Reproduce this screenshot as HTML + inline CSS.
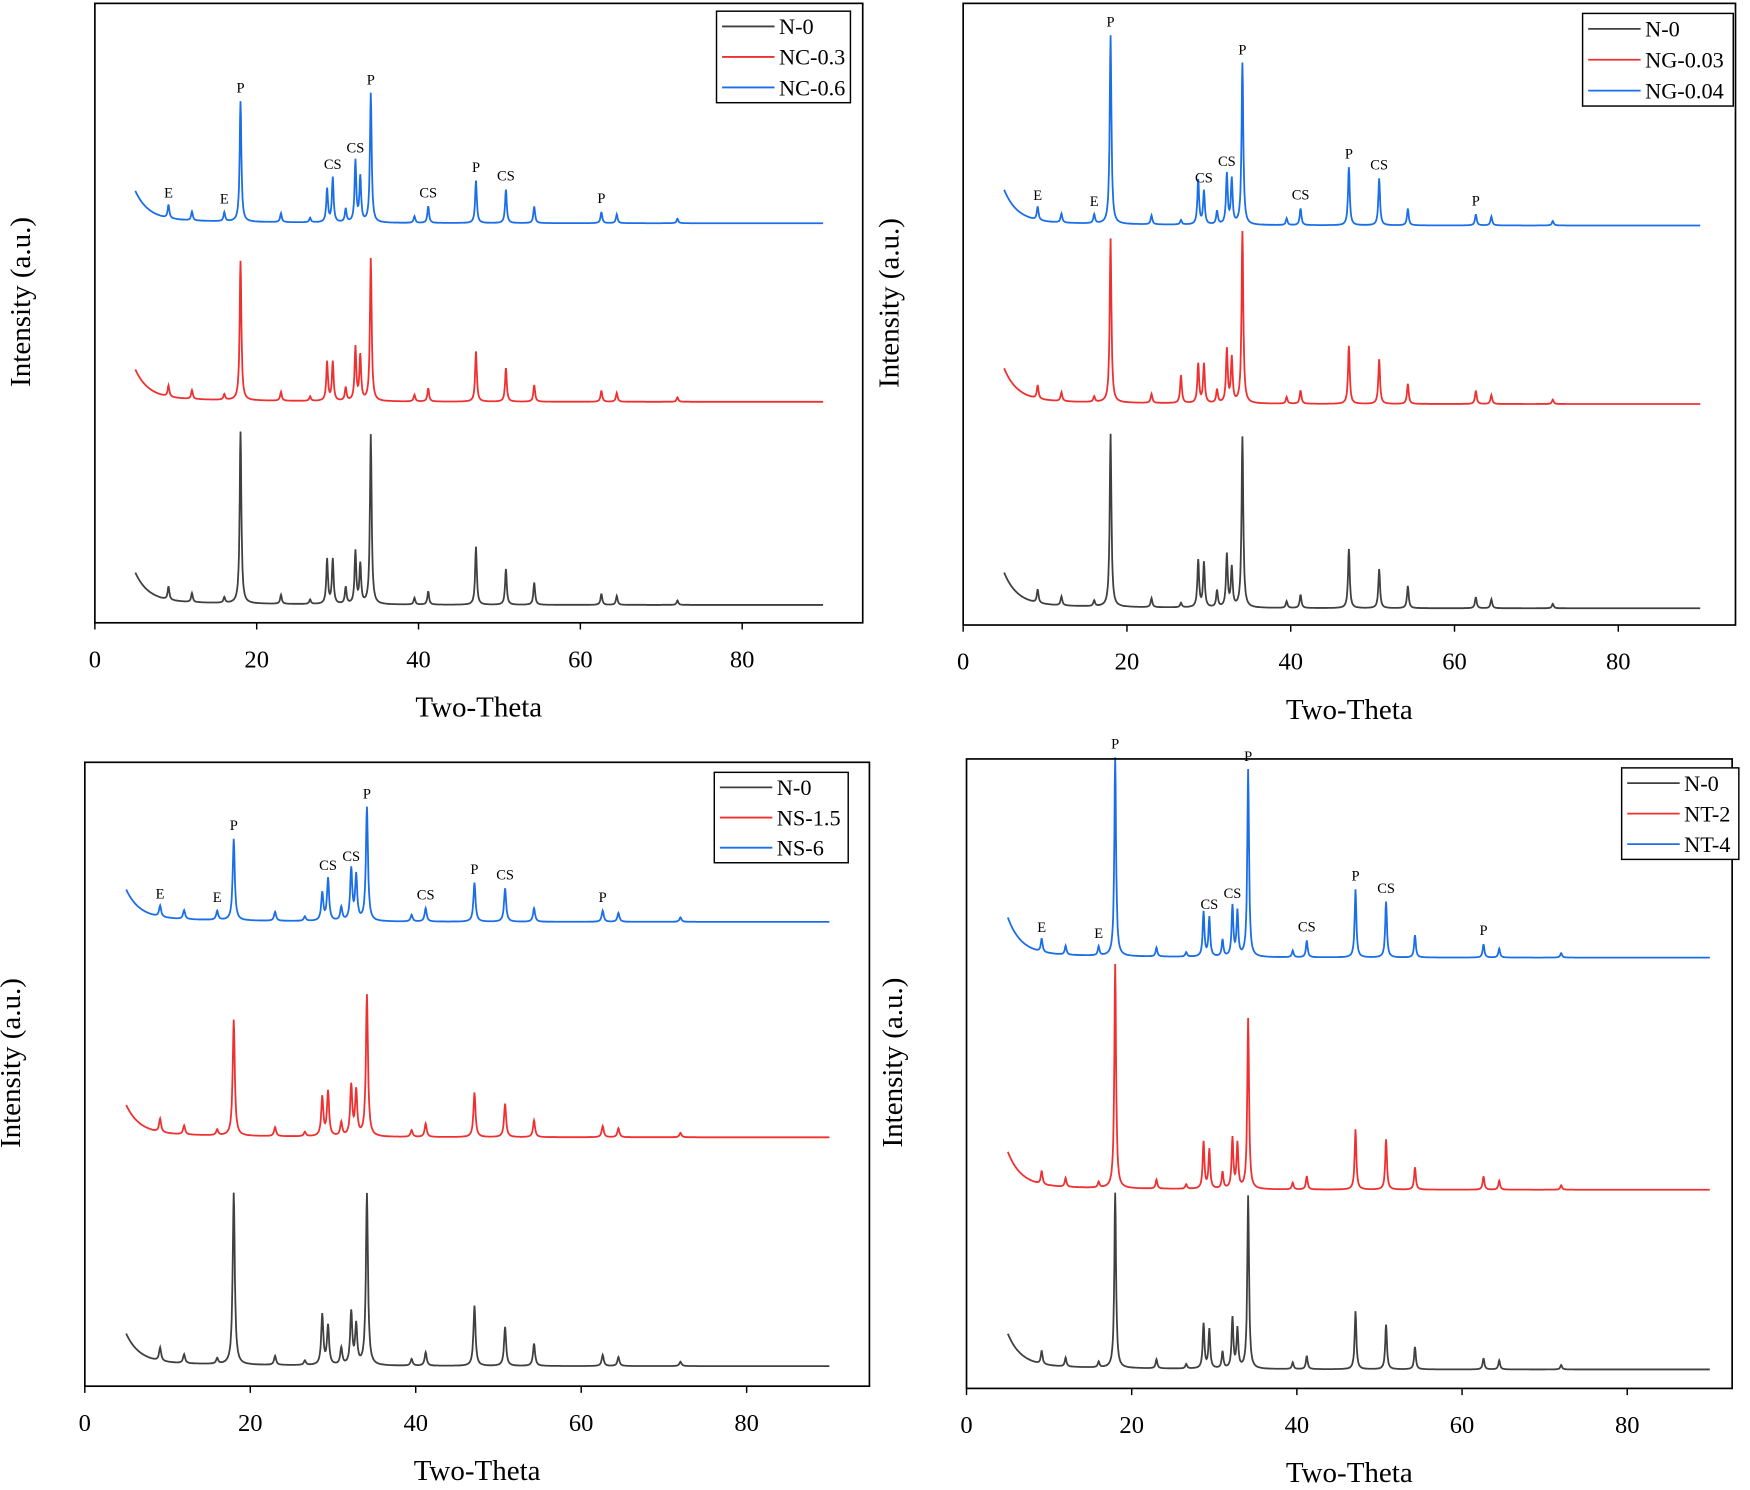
<!DOCTYPE html>
<html><head><meta charset="utf-8"><style>
html,body{margin:0;padding:0;background:#fff}
svg{display:block;font-family:"Liberation Serif",serif}
</style></head><body>
<svg id="fig" width="1750" height="1490" viewBox="0 0 1568 1335" xmlns="http://www.w3.org/2000/svg"></svg>
<script>
const peakPos = [9.1,12.0,16.0,18.0,23.0,26.6,28.7,29.4,31.0,32.2,32.8,34.1,39.5,41.2,47.1,50.8,54.3,62.6,64.5,72.0];
const xTicks = [0,20,40,60,80];
const legendNames = [["N-0","NC-0.3","NC-0.6"],["N-0","NG-0.03","NG-0.04"],["N-0","NS-1.5","NS-6"],["N-0","NT-2","NT-4"]];
const h1k=[12,8,5,154,8,4,40,40,15,47,35,152,6,12,52,32,20,10,8,4];
const h1r=[10,8,5,125,8,4,35,35,12,48,40,128,6,12,45,30,15,10,8,4];
const h1b=[12,8,8,108,8,4,30,40,12,55,40,116,6,15,38,30,15,10,8,4];
const h2k=[12,8,5,155,8,4,42,40,15,47,35,153,6,12,53,35,20,10,8,4];
const h2r=[12,8,5,147,8,25,35,35,12,48,40,154,6,12,52,40,18,12,8,4];
const h2b=[12,8,8,169,8,4,40,30,12,45,40,145,6,15,52,42,15,10,8,4];
const h3k=[12,8,5,154,8,4,45,35,15,47,35,154,6,12,54,35,20,10,8,4];
const h3r=[12,8,5,104,8,4,35,40,12,45,40,127,6,12,40,30,15,10,8,4];
const h3b=[10,8,8,73,8,4,25,38,12,46,40,102,6,12,35,30,12,10,8,4];
const h4k=[12,8,5,157,8,4,40,35,15,45,35,155,6,12,52,40,20,10,8,4];
const h4r=[12,8,5,201,8,4,42,35,15,45,40,153,6,12,54,45,20,12,8,4];
const h4b=[12,8,8,178,8,4,40,35,15,45,40,168,6,15,61,50,20,12,8,4];
const bgAmp=[[25,25,25],[28,28,28],[25,25,25],[28,30,32]];
const panels=[
 {box:[85,3,773,558],x0:85,x80:665,base:[542,360,200],h:[h1k,h1r,h1b],leg:[642,10,762,92],w:0.25},
 {box:[863,3,1555,560],x0:863,x80:1450,base:[545,362,202],h:[h2k,h2r,h2b],leg:[1418,12,1553,95],w:0.25},
 {box:[76,683,779,1242],x0:76,x80:669,base:[1224,1019,826],h:[h3k,h3r,h3b],leg:[640,692,760,773],w:0.3},
 {box:[866,680,1552,1244],x0:866,x80:1458,base:[1227,1066,858],h:[h4k,h4r,h4b],leg:[1453,688,1558,770],w:0.25}
];
const colors=["#404040","#f03030","#1a6ee8"];
const annot=[[9.1,"E"],[16.0,"E"],[18.0,"P"],[29.4,"CS"],[32.2,"CS"],[34.1,"P"],[41.2,"CS"],[47.1,"P"],[50.8,"CS"],[62.6,"P"]];
const NS="http://www.w3.org/2000/svg";
const svg=document.getElementById('fig');
function mk(t,a,p){const e=document.createElementNS(NS,t);for(const k in a)e.setAttribute(k,a[k]);(p||svg).appendChild(e);return e;}
panels.forEach((P,pi)=>{
 const g=mk('g',{});
 
 
 const xs=v=>P.x0+(P.x80-P.x0)*v/80;
 const [bx0,by0,bx1,by1]=P.box;
 const clipId='c'+pi;
 const cp=mk('clipPath',{id:clipId},g);mk('rect',{x:bx0,y:by0-20,width:bx1-bx0,height:by1-by0+20},cp);
 for(let s=0;s<3;s++){
  const hs=P.h[s];let d="";
  const ys=v=>P.base[s]-v;
  for(let t=5;t<=90.0001;t+=0.05){
   let v=bgAmp[pi][s]*Math.exp(-(t-5)/1.6)+4*Math.exp(-(t-5)/12);
   for(let i=0;i<peakPos.length;i++){const dx=(t-peakPos[i])/P.w*2;v+=hs[i]/(1+dx*dx);}
   d+=(d?"L":"M")+xs(t).toFixed(1)+","+ys(v).toFixed(1);
  }
  const path=mk('path',{d:d,fill:'none',stroke:colors[s],'stroke-width':1.6,'clip-path':'url(#'+clipId+')'},g);
  
  
  if(s===2){
   annot.forEach(([pos,lab])=>{
    const i=peakPos.indexOf(pos);
    const tx=mk('text',{x:xs(pos),y:ys(hs[i]+4*Math.exp(-(pos-5)/12))-8,'font-size':13,'text-anchor':'middle'},g);
    tx.textContent=lab;
    
    
   });
  }
 }
 const fr=mk('rect',{x:bx0,y:by0,width:bx1-bx0,height:by1-by0,fill:'none',stroke:'#000','stroke-width':1.5},g);
 
 
 xTicks.forEach(v=>{
  mk('line',{x1:xs(v),x2:xs(v),y1:by1,y2:by1+6,stroke:'#000','stroke-width':1.3},g);
  const t=mk('text',{x:xs(v),y:by1+40,'font-size':22,'text-anchor':'middle'},g);t.textContent=v;
  
  
 });
 const xt=mk('text',{x:(bx0+bx1)/2,y:by1+84,'font-size':26,'text-anchor':'middle'},g);xt.textContent="Two-Theta";
 
 
 const cy=(by0+by1)/2-10, cx=bx0-58;
 const yt=mk('text',{x:cx,y:cy,'font-size':26,'text-anchor':'middle',transform:'rotate(-90 '+cx+' '+cy+')'},g);yt.textContent="Intensity (a.u.)";
 
 
 const [lx0,ly0,lx1,ly1]=P.leg;
 const lg=mk('g',{},g);
 
 
 mk('rect',{x:lx0,y:ly0,width:lx1-lx0,height:ly1-ly0,fill:'#fff',stroke:'#000','stroke-width':1.3},lg);
 const rh=(ly1-ly0)/3;
 for(let s=0;s<3;s++){
  const yy=ly0+rh*(s+0.5);
  mk('line',{x1:lx0+5,x2:lx0+52,y1:yy,y2:yy,stroke:colors[s],'stroke-width':1.6},lg);
  const t=mk('text',{x:lx0+56,y:yy+7,'font-size':20},lg);t.textContent=legendNames[pi][s];
  
  
 }
});
</script>
</body></html>
